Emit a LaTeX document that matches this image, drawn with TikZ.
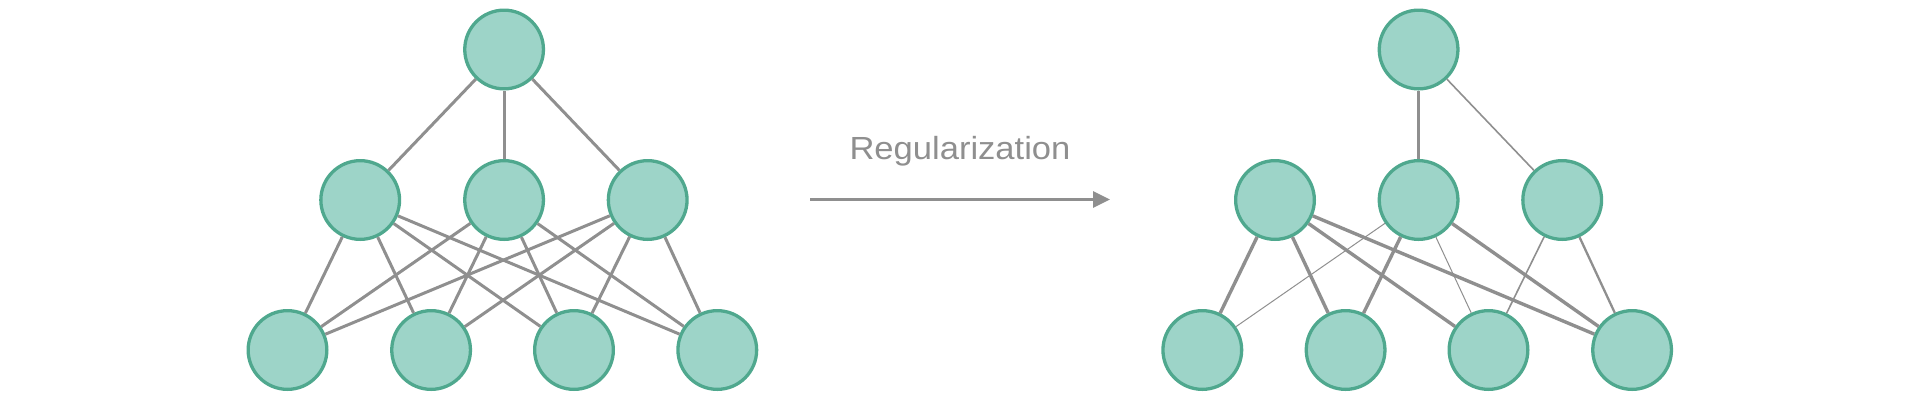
\documentclass[tikz,border=0pt]{standalone}
\usepackage{fontspec}
\setmainfont{Liberation Sans}
\usetikzlibrary{arrows.meta}
\definecolor{nfill}{HTML}{9DD4C8}
\definecolor{nline}{HTML}{4FA88E}
\definecolor{eline}{HTML}{8F8F8F}
\tikzset{
  neuron/.style={circle, fill=nfill, draw=nline, line width=3.3pt, minimum size=78.7pt, inner sep=0pt},
  edge/.style={draw=eline, line width=3pt},
  thick edge/.style={draw=eline, line width=3.4pt},
  mid edge/.style={draw=eline, line width=2.3pt},
  light edge/.style={draw=eline, line width=1.6pt},
  thin edge/.style={draw=eline, line width=1pt},
}
\begin{document}
\begin{tikzpicture}[x=1pt,y=-1pt]
\useasboundingbox (0,0) rectangle (1920,400);
% left network
\node[neuron] (LT) at (504.1,49.5) {};
\node[neuron] (LM1) at (360.2,200) {};
\node[neuron] (LM2) at (504.1,200) {};
\node[neuron] (LM3) at (647.7,200) {};
\node[neuron] (LB1) at (287.5,350) {};
\node[neuron] (LB2) at (431.1,350) {};
\node[neuron] (LB3) at (574,350) {};
\node[neuron] (LB4) at (717.3,350) {};
\foreach \m in {LM1,LM2,LM3} {
  \draw[edge] (LT) -- (\m);
  \foreach \b in {LB1,LB2,LB3,LB4} { \draw[edge] (\m) -- (\b); }
}
% right network
\node[neuron] (RT) at (1418.6,49.5) {};
\node[neuron] (RM1) at (1275,200) {};
\node[neuron] (RM2) at (1418.6,200) {};
\node[neuron] (RM3) at (1562.2,200) {};
\node[neuron] (RB1) at (1202.3,350) {};
\node[neuron] (RB2) at (1345.6,350) {};
\node[neuron] (RB3) at (1488.5,350) {};
\node[neuron] (RB4) at (1632.1,350) {};
\draw[thick edge] (RT) -- (RM2);
\draw[light edge] (RT) -- (RM3);
\draw[thick edge] (RM1) -- (RB1);
\draw[thick edge] (RM1) -- (RB2);
\draw[thick edge] (RM1) -- (RB3);
\draw[thick edge] (RM1) -- (RB4);
\draw[thin edge] (RM2) -- (RB1);
\draw[thick edge] (RM2) -- (RB2);
\draw[thin edge] (RM2) -- (RB3);
\draw[thick edge] (RM2) -- (RB4);
\draw[light edge] (RM3) -- (RB3);
\draw[mid edge] (RM3) -- (RB4);
% arrow and label
\coordinate (AS) at (810,199.5);
\coordinate (AE) at (1110,199.5);
\draw[eline, line width=3pt, -{Triangle[length=17pt,width=16pt]}] (AS) -- (AE);
\node[anchor=base, text=eline, font=\fontsize{32}{36}\selectfont, inner sep=0pt, xscale=1.08, transform shape] (lab) at (960,159.3) {Regularization};
\end{tikzpicture}
\end{document}
